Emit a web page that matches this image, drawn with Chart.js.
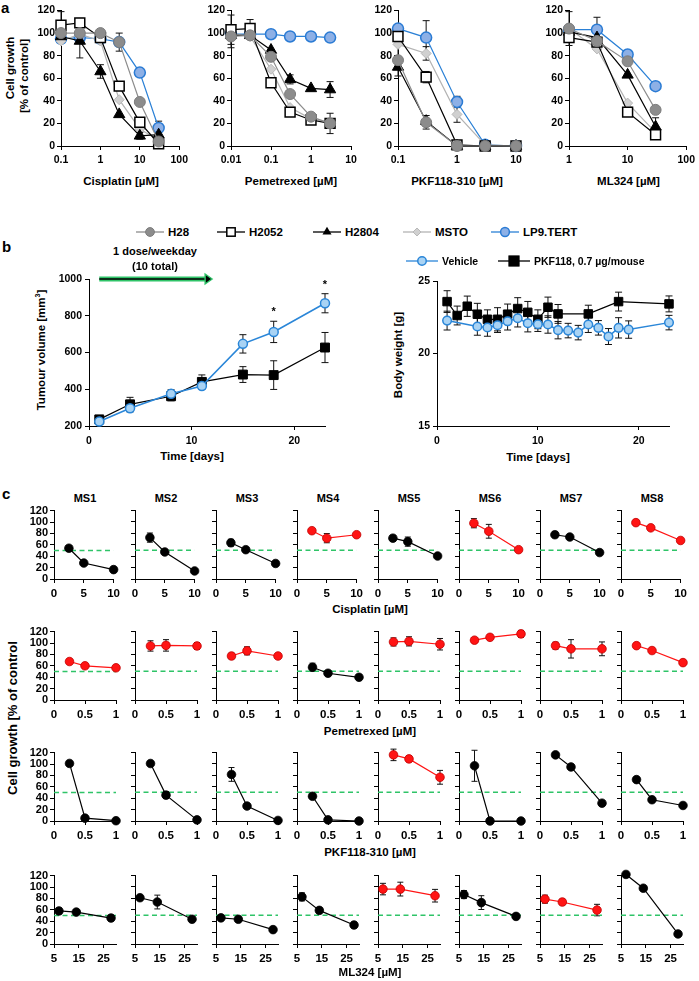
<!DOCTYPE html>
<html lang="en">
<head>
<meta charset="UTF-8">
<title>Cell growth, tumour volume and body weight</title>
<script src="https://cdn.jsdelivr.net/npm/chart.js"></script>
<style>
    body { margin: 0; background: #fff; }
    #fig {
        position: relative; width: 699px; height: 981px; overflow: hidden;
        font-family: 'Liberation Sans', Arial, Helvetica, sans-serif; font-weight: bold; color: #000;
    }
    #fig canvas { position: absolute; }
    .t { position: absolute; white-space: nowrap; font-size: 11.5px; line-height: 1; transform: translate(-50%, -50%); }
    .t sup { font-size: 7px; line-height: 0; }
    .rot { transform: translate(-50%, -50%) rotate(-90deg); }
    .panel { position: absolute; font-size: 15px; line-height: 1; }
    .leg { position: absolute; display: flex; align-items: center; font-size: 11px; white-space: nowrap; transform: translateY(-50%); }
    .leg svg { margin-right: 4px; }
</style>
</head>
<body>
<div id="fig"></div>
<script>
// ---------- panel a : dose response of cell lines ----------
const cellLines = ['H28', 'H2052', 'H2804', 'MSTO', 'LP9.TERT'];
const aYTicks = [0, 20, 40, 60, 80, 100, 120];

const cisDoses = [0.1, 0.3, 1, 3, 10, 30];
const cisTicks = [0.1, 1, 10, 100];
const cisH28   = [100, 100, 100, 92, 39, 4];
const cisH2052 = [107, 109, 96, 53, 21, 2];
const cisH2804 = [97, 93, 66, 28, 9, 10];
const cisMSTO  = [93, 99, 93, 41, 15, 5];
const cisLP9   = [95, 96, 95, 92, 65, 16];
const cisErrH28   = [0, 0, 0, 8, 0, 0];
const cisErrH2052 = [12, 4, 0, 0, 0, 0];
const cisErrH2804 = [0, 15, 6, 0, 3, 0];
const cisErrMSTO  = [0, 0, 0, 0, 0, 0];
const cisErrLP9   = [0, 0, 0, 0, 0, 6];

const pemDoses = [0.01, 0.03, 0.1, 0.3, 1, 3];
const pemTicks = [0.01, 0.1, 1, 10];
const pemH28   = [97, 98, 79, 46, 26, 20];
const pemH2052 = [103, 104, 56, 30, 23, 20];
const pemH2804 = [98, 98, 85, 59, 51, 50];
const pemMSTO  = [100, 97, 68, 34, 24, 21];
const pemLP9   = [99, 99, 99, 97, 97, 96];
const pemErrH28   = [10, 0, 0, 0, 0, 9];
const pemErrH2052 = [13, 8, 0, 0, 0, 0];
const pemErrH2804 = [0, 0, 0, 4, 0, 7];
const pemErrMSTO  = [0, 0, 0, 0, 0, 0];
const pemErrLP9   = [0, 0, 0, 0, 0, 0];

const pkfDoses = [0.1, 0.3, 1, 3, 10];
const pkfTicks = [0.1, 1, 10];
const pkfH28   = [76, 21, 0, 0, 0];
const pkfH2052 = [97, 61, 1, 0, 0];
const pkfH2804 = [70, 22, 0, 0, 0];
const pkfMSTO  = [90, 82, 28, 1, 0];
const pkfLP9   = [104, 96, 39, 1, 0];
const pkfErrH28   = [14, 6, 0, 0, 0];
const pkfErrH2052 = [0, 5, 0, 0, 0];
const pkfErrH2804 = [0, 0, 0, 0, 0];
const pkfErrMSTO  = [0, 6, 7, 0, 0];
const pkfErrLP9   = [0, 15, 5, 0, 0];

const mlDoses = [1, 3, 10, 30];
const mlTicks = [1, 10, 100];
const mlH28   = [104, 93, 75, 32];
const mlH2052 = [96, 92, 30, 10];
const mlH2804 = [101, 96, 63, 17];
const mlMSTO  = [104, 86, 38, 12];
const mlLP9   = [103, 103, 81, 53];
const mlErrH28   = [15, 0, 0, 0];
const mlErrH2052 = [0, 0, 0, 0];
const mlErrH2804 = [0, 0, 0, 8];
const mlErrMSTO  = [0, 0, 0, 0];
const mlErrLP9   = [0, 11, 0, 0];

// ---------- panel b : xenograft ----------
const tumourDays = [1, 4, 8, 11, 15, 18, 23];
const tumourVehicle    = [224, 297, 375, 418, 647, 712, 868];
const tumourVehicleErr = [12, 20, 22, 15, 50, 58, 52];
const tumourPKF        = [236, 318, 362, 440, 480, 477, 627];
const tumourPKFErr     = [12, 38, 25, 38, 43, 78, 82];
const sigDays = [18, 23];
const doseFrom = 1, doseTo = 12;
const tumourTicks = [200, 400, 600, 800, 1000];
const dayTicks = [0, 10, 20];

const bwVehicleDays = [1, 4, 5, 6, 7, 8, 9, 10, 11, 12, 13, 14, 15, 16, 17, 18, 19, 23];
const bwVehicle    = [22.27, 21.86, 21.79, 21.95, 22.22, 22.43, 22.09, 22.02, 22.0, 21.61, 21.58, 21.44, 22.0, 21.77, 21.17, 21.77, 21.65, 22.13];
const bwVehicleErr = [0.65, 0.6, 0.6, 0.5, 0.6, 0.6, 0.6, 0.5, 0.6, 0.6, 0.5, 0.5, 0.55, 0.5, 0.55, 0.7, 0.6, 0.5];
const bwPKFDays = [1, 2, 3, 4, 5, 6, 7, 8, 9, 10, 11, 12, 15, 18, 23];
const bwPKF    = [23.58, 22.62, 23.26, 22.71, 22.36, 22.36, 22.71, 23.1, 22.84, 22.36, 23.19, 22.73, 22.73, 23.58, 23.42];
const bwPKFErr = [0.75, 0.65, 0.7, 0.75, 0.65, 0.8, 0.7, 0.75, 0.75, 0.65, 0.7, 0.65, 0.6, 0.65, 0.55];
const bwTicks = [15, 20, 25];

// ---------- panel c : primary MPM cells ----------
const msNames = ['MS1', 'MS2', 'MS3', 'MS4', 'MS5', 'MS6', 'MS7', 'MS8'];
const cTicksY = [0, 20, 40, 60, 80, 100, 120];
const cThreshold = 50;

const cisC_x = [2.5, 5, 10];
const cisC_ticks = [0, 5, 10];
const cisC    = [[54, 28, 16.5], [72, 47, 14], [63, 51, 27], [84, 71, 77], [71, 65, 40], [97, 83, 51], [77, 73, 46], [98, 89, 67]];
const cisCErr = [[4, 2, 2], [8, 3, 2], [6, 3, 2], [4, 8, 3], [5, 8, 2], [8, 12, 3], [5, 3, 2], [3, 3, 3]];
const cisCRed = [0, 0, 0, 1, 0, 1, 0, 1];

const pemC_x = [0.25, 0.5, 1];
const pemC_ticks = [0, 0.5, 1];
const pemC    = [[67.5, 60, 56.5], [94, 95, 94], [76.5, 85.5, 76.5], [57, 46.5, 39.5], [101, 102, 97], [104, 109, 115], [94.5, 89, 89], [94.5, 86, 65]];
const pemCErr = [[4, 4, 4], [9, 10, 6], [5, 7, 4], [7, 4, 4], [7, 8, 10], [4, 3, 6], [6, 16, 12], [3, 4, 3]];
const pemCRed = [1, 1, 1, 0, 1, 1, 1, 1];

const pkfC_x = [0.25, 0.5, 1];
const pkfC_ticks = [0, 0.5, 1];
const pkfC    = [[101, 5, 0.5], [100, 45, 2], [81, 26, 1], [43, 2, 0], [115, 108, 76], [96, 0, 0], [115, 94, 31], [72, 37, 27]];
const pkfCErr = [[3, 2, 0], [3, 6, 2], [12, 4, 1], [3, 1, 0], [10, 5, 12], [27, 0, 0], [4, 3, 2], [3, 3, 3]];
const pkfCRed = [0, 0, 0, 0, 1, 0, 0, 0];

const mlC_x = [7, 14, 28];
const mlC_ticks = [5, 15, 25];
const mlC    = [[58, 56, 45.5], [80.5, 73, 43], [45.5, 43, 25], [82, 58.5, 33], [95.5, 95.5, 84], [86, 72, 48], [78, 73, 59], [121, 97, 17.5]];
const mlCErr = [[5, 4, 5], [4, 12, 3], [3, 3, 2], [7, 4, 5], [10, 12, 11], [7, 12, 3], [7, 5, 10], [3, 3, 3]];
const mlCRed = [0, 0, 0, 0, 1, 0, 1, 0];

// ---------- styles ----------
const FONT = "'Liberation Sans', Arial, Helvetica, sans-serif";
Chart.defaults.font.family = FONT;
Chart.defaults.font.weight = 'bold';
Chart.defaults.font.size = 10.5;
Chart.defaults.color = '#000';

const cellStyles = {
    'H28':      { shape: 'circle',   r: 5.5, bg: '#8c8c8c', bd: '#7c7c7c', bw: 1,   line: '#8c8c8c' },
    'H2052':    { shape: 'rect',     r: 7,   bg: '#ffffff', bd: '#000000', bw: 1.5, line: '#000000' },
    'H2804':    { shape: 'triangle', r: 6.5, bg: '#000000', bd: '#000000', bw: 1,   line: '#000000' },
    'MSTO':     { shape: 'rectRot',  r: 5,   bg: '#d0d0d0', bd: '#b8b8b8', bw: 1,   line: '#b3b3b3' },
    'LP9.TERT': { shape: 'circle',   r: 5.5, bg: '#8db0e6', bd: '#2a7bd4', bw: 1.5, line: '#2a80d6' }
};
const BLUE = '#2a86d8', LIGHTBLUE = '#a9d3f4', RED = '#ff1414', DARKRED = '#c00000', GREEN = '#2fc468';

const fig = document.getElementById('fig');

// error bars drawn through the chart's own y scale
Chart.register({
    id: 'errorBars',
    beforeDatasetsDraw(chart) {
        const ctx = chart.ctx, ys = chart.scales.y;
        chart.data.datasets.forEach((ds, i) => {
            if (!ds.errors) return;
            const meta = chart.getDatasetMeta(i);
            const cap = ds.capWidth || 3;
            ctx.save();
            ctx.strokeStyle = '#111';
            ctx.lineWidth = 1;
            meta.data.forEach((pt, j) => {
                const e = ds.errors[j];
                if (!e) return;
                const v = ds.data[j].y;
                const y1 = ys.getPixelForValue(v + e), y2 = ys.getPixelForValue(v - e);
                ctx.beginPath();
                ctx.moveTo(pt.x, y1); ctx.lineTo(pt.x, y2);
                ctx.moveTo(pt.x - cap, y1); ctx.lineTo(pt.x + cap, y1);
                ctx.moveTo(pt.x - cap, y2); ctx.lineTo(pt.x + cap, y2);
                ctx.stroke();
            });
            ctx.restore();
        });
    }
});

function text(str, x, y, size, cls) {
    const d = document.createElement('div');
    d.className = 't' + (cls ? ' ' + cls : '');
    d.innerHTML = str;
    d.style.left = x + 'px';
    d.style.top = y + 'px';
    if (size) d.style.fontSize = size + 'px';
    fig.appendChild(d);
}

function panelLabel(str, x, y) {
    const d = document.createElement('div');
    d.className = 'panel';
    d.textContent = str;
    d.style.left = x + 'px';
    d.style.top = y + 'px';
    fig.appendChild(d);
}

function axis(type, min, max, tickVals, size, showLabels, fit) {
    return {
        type: type, min: min, max: max,
        afterBuildTicks: s => { s.ticks = tickVals.map(v => ({ value: v })); },
        afterFit: s => {
            if (fit.w != null) s.width = fit.w;
            if (fit.h != null) s.height = fit.h;
        },
        ticks: {
            display: showLabels, autoSkip: false, maxRotation: 0, minRotation: 0,
            padding: fit.pad != null ? fit.pad : 3,
            font: { size: size, weight: 'bold', family: FONT }, color: '#000',
            callback: v => String(v)
        },
        grid: { display: true, drawOnChartArea: false, drawTicks: true, tickLength: 4, color: '#000', tickColor: '#000', lineWidth: 1 },
        border: { display: true, color: '#000', width: 1 }
    };
}

// box: plot area position in the page and room for the axes around it
function plot(box, xAxis, yAxis, datasets, extra) {
    const c = document.createElement('canvas');
    c.width = box.yw + box.w + box.padR;
    c.height = box.padT + box.h + box.xh + 2;
    c.style.left = (box.left - box.yw) + 'px';
    c.style.top = (box.top - box.padT) + 'px';
    fig.appendChild(c);
    return new Chart(c, {
        type: 'line',
        data: { datasets: datasets },
        options: {
            responsive: false, animation: false, events: [],
            layout: { padding: { left: 0, right: box.padR, top: box.padT, bottom: 2 } },
            plugins: { legend: { display: false }, tooltip: { enabled: false } },
            scales: { x: xAxis, y: yAxis }
        },
        plugins: extra || []
    });
}

function xy(xs, ys) { return xs.map((x, i) => ({ x: x, y: ys[i] })); }

// ---------- panel a ----------
panelLabel('a', 1, 0);
text('Cell growth', 11, 68, 11.5, 'rot');
text('[% of control]', 25, 76, 11.5, 'rot');

const aPanels = [
    { doses: cisDoses, ticks: cisTicks, min: 0.1, max: 100, left: 61, w: 120, title: 'Cisplatin [µM]',
      vals: [cisH28, cisH2052, cisH2804, cisMSTO, cisLP9], errs: [cisErrH28, cisErrH2052, cisErrH2804, cisErrMSTO, cisErrLP9] },
    { doses: pemDoses, ticks: pemTicks, min: 0.01, max: 10, left: 231, w: 120, title: 'Pemetrexed [µM]',
      vals: [pemH28, pemH2052, pemH2804, pemMSTO, pemLP9], errs: [pemErrH28, pemErrH2052, pemErrH2804, pemErrMSTO, pemErrLP9] },
    { doses: pkfDoses, ticks: pkfTicks, min: 0.1, max: 10, left: 398, w: 118, title: 'PKF118-310 [µM]',
      vals: [pkfH28, pkfH2052, pkfH2804, pkfMSTO, pkfLP9], errs: [pkfErrH28, pkfErrH2052, pkfErrH2804, pkfErrMSTO, pkfErrLP9] },
    { doses: mlDoses, ticks: mlTicks, min: 1, max: 100, left: 569, w: 119, title: 'ML324 [µM]',
      vals: [mlH28, mlH2052, mlH2804, mlMSTO, mlLP9], errs: [mlErrH28, mlErrH2052, mlErrH2804, mlErrMSTO, mlErrLP9] }
];

aPanels.forEach(p => {
    const box = { left: p.left, top: 10, w: p.w, h: 136, yw: 27, xh: 22, padR: 11, padT: 8 };
    const datasets = cellLines.map((name, k) => {
        const st = cellStyles[name];
        return {
            label: name,
            data: xy(p.doses, p.vals[k]),
            errors: p.errs[k], capWidth: 3.5,
            borderColor: st.line, borderWidth: 1.2, tension: 0, clip: false,
            pointStyle: st.shape, pointRadius: st.r,
            pointBackgroundColor: st.bg, pointBorderColor: st.bd, pointBorderWidth: st.bw
        };
    });
    plot(box,
        axis('logarithmic', p.min, p.max, p.ticks, 10.5, true, { h: 22, pad: 4 }),
        axis('linear', 0, 120, aYTicks, 10.5, true, { w: 27, pad: 2 }),
        datasets);
    text(p.title, p.left + p.w / 2, 182, 11.5);
});

// legend of panel a
function glyph(st, w) {
    const cy = 7, cx = w / 2, r = st.r * 0.8;
    let m;
    if (st.shape === 'circle') {
        m = `<circle cx="${cx}" cy="${cy}" r="${r}" fill="${st.bg}" stroke="${st.bd}" stroke-width="${st.bw}"/>`;
    } else if (st.shape === 'rect') {
        const s = r * 0.75;
        m = `<rect x="${cx - s}" y="${cy - s}" width="${2 * s}" height="${2 * s}" fill="${st.bg}" stroke="${st.bd}" stroke-width="${st.bw}"/>`;
    } else if (st.shape === 'triangle') {
        m = `<polygon points="${cx},${cy - r} ${cx + r * 0.87},${cy + r / 2} ${cx - r * 0.87},${cy + r / 2}" fill="${st.bg}"/>`;
    } else {
        m = `<polygon points="${cx},${cy - r} ${cx + r},${cy} ${cx},${cy + r} ${cx - r},${cy}" fill="${st.bg}" stroke="${st.bd}"/>`;
    }
    return `<svg width="${w}" height="14"><line x1="0" y1="${cy}" x2="${w}" y2="${cy}" stroke="${st.line}" stroke-width="1.3"/>${m}</svg>`;
}

function legendItem(html, label, x, y, size) {
    const d = document.createElement('div');
    d.className = 'leg';
    d.innerHTML = html + '<span>' + label + '</span>';
    d.style.left = x + 'px';
    d.style.top = y + 'px';
    if (size) d.style.fontSize = size + 'px';
    fig.appendChild(d);
}

const aLegendX = [136, 217, 313, 403, 491];
cellLines.forEach((name, k) => legendItem(glyph(cellStyles[name], 28), name, aLegendX[k], 232, 11.5));

// ---------- panel b ----------
panelLabel('b', 2, 239);

const doseArrow = {
    id: 'doseArrow',
    afterDatasetsDraw(chart) {
        const ctx = chart.ctx, xs = chart.scales.x, ys = chart.scales.y;
        const x1 = xs.getPixelForValue(doseFrom), x2 = xs.getPixelForValue(doseTo);
        const yy = ys.getPixelForValue(tumourTicks[tumourTicks.length - 1]);
        ctx.save();
        ctx.lineCap = 'butt';
        ctx.strokeStyle = GREEN; ctx.lineWidth = 5;
        ctx.beginPath(); ctx.moveTo(x1, yy); ctx.lineTo(x2 - 5, yy); ctx.stroke();
        ctx.strokeStyle = '#000'; ctx.lineWidth = 1.6;
        ctx.beginPath(); ctx.moveTo(x1, yy); ctx.lineTo(x2 - 5, yy); ctx.stroke();
        ctx.beginPath();
        ctx.moveTo(x2, yy); ctx.lineTo(x2 - 7, yy - 5); ctx.lineTo(x2 - 7, yy + 5); ctx.closePath();
        ctx.fillStyle = '#000'; ctx.fill();
        ctx.strokeStyle = GREEN; ctx.lineWidth = 1.4; ctx.stroke();
        // significance marks above vehicle
        ctx.fillStyle = '#000';
        ctx.font = 'bold 11px ' + FONT;
        ctx.textAlign = 'center';
        sigDays.forEach(d => {
            const i = tumourDays.indexOf(d);
            const px = xs.getPixelForValue(d);
            const py = ys.getPixelForValue(tumourVehicle[i] + tumourVehicleErr[i]) - 6;
            ctx.fillText('*', px, py);
        });
        ctx.restore();
    }
};

plot({ left: 89, top: 279, w: 236, h: 147, yw: 32, xh: 22, padR: 10, padT: 12 },
    axis('linear', 0, 23, dayTicks, 10.5, true, { h: 22, pad: 5 }),
    axis('linear', 200, 1000, tumourTicks, 10.5, true, { w: 32, pad: 3 }),
    [
        { label: 'Vehicle', data: xy(tumourDays, tumourVehicle), errors: tumourVehicleErr, capWidth: 3.5,
          borderColor: BLUE, borderWidth: 1.6, tension: 0, clip: false,
          pointStyle: 'circle', pointRadius: 4.5, pointBackgroundColor: LIGHTBLUE, pointBorderColor: BLUE, pointBorderWidth: 1.5 },
        { label: 'PKF118, 0.7 µg/mouse', data: xy(tumourDays, tumourPKF), errors: tumourPKFErr, capWidth: 3.5,
          borderColor: '#000', borderWidth: 1.2, tension: 0, clip: false, order: 1,
          pointStyle: 'rect', pointRadius: 6.3, pointBackgroundColor: '#000', pointBorderColor: '#000', pointBorderWidth: 1 }
    ],
    [doseArrow]);
text('1 dose/weekday', 155, 251, 11);
text('(10 total)', 155, 266, 11);
text('Tumour volume [mm<sup>3</sup>]', 42, 350, 11.5, 'rot');
text('Time [days]', 192, 457, 11.5);

plot({ left: 437, top: 281, w: 232, h: 145, yw: 24, xh: 22, padR: 9, padT: 10 },
    axis('linear', 0, 23, dayTicks, 10.5, true, { h: 22, pad: 5 }),
    axis('linear', 15, 25, bwTicks, 10.5, true, { w: 24, pad: 3 }),
    [
        { label: 'Vehicle', data: xy(bwVehicleDays, bwVehicle), errors: bwVehicleErr, capWidth: 3.5,
          borderColor: BLUE, borderWidth: 1.5, tension: 0, clip: false,
          pointStyle: 'circle', pointRadius: 4.3, pointBackgroundColor: LIGHTBLUE, pointBorderColor: BLUE, pointBorderWidth: 1.5 },
        { label: 'PKF118, 0.7 µg/mouse', data: xy(bwPKFDays, bwPKF), errors: bwPKFErr, capWidth: 3.5,
          borderColor: '#000', borderWidth: 1.2, tension: 0, clip: false, order: 1,
          pointStyle: 'rect', pointRadius: 6, pointBackgroundColor: '#000', pointBorderColor: '#000', pointBorderWidth: 1 }
    ]);
text('Body weight [g]', 399, 355, 11.5, 'rot');
text('Time [days]', 538, 458, 11.5);

const vehGlyph = { shape: 'circle', r: 5.3, bg: LIGHTBLUE, bd: BLUE, bw: 1.5, line: BLUE };
const pkfGlyph = { shape: 'rect', r: 8.5, bg: '#000', bd: '#000', bw: 1, line: '#000' };
legendItem(glyph(vehGlyph, 32), 'Vehicle', 406, 261, 10.5);
legendItem(glyph(pkfGlyph, 32), 'PKF118, 0.7 µg/mouse', 498, 261, 10.5);

// ---------- panel c ----------
panelLabel('c', 2, 486);
text('Cell growth [% of control', 12, 718, 13, 'rot');

const cRows = [
    { vals: cisC, errs: cisCErr, red: cisCRed, xs: cisC_x, ticks: cisC_ticks, min: 0, max: 10, top: 510, title: 'Cisplatin [µM]', titleY: 610 },
    { vals: pemC, errs: pemCErr, red: pemCRed, xs: pemC_x, ticks: pemC_ticks, min: 0, max: 1, top: 631, title: 'Pemetrexed [µM]', titleY: 732 },
    { vals: pkfC, errs: pkfCErr, red: pkfCRed, xs: pkfC_x, ticks: pkfC_ticks, min: 0, max: 1, top: 752, title: 'PKF118-310 [µM]', titleY: 853 },
    { vals: mlC, errs: mlCErr, red: mlCRed, xs: mlC_x, ticks: mlC_ticks, min: 5, max: 30, top: 875, title: 'ML324 [µM]', titleY: 973 }
];
const cColLeft = msNames.map((n, i) => 54 + 81 * i);

msNames.forEach((n, i) => text(n, cColLeft[i] + 31, 498, 11));

cRows.forEach(row => {
    msNames.forEach((n, i) => {
        const first = i === 0;
        const yw = first ? 30 : 8;
        const col = row.red[i] ? RED : '#000';
        plot({ left: cColLeft[i], top: row.top, w: 62, h: 69, yw: yw, xh: 21, padR: 8, padT: 8 },
            axis('linear', row.min, row.max, row.ticks, 11.5, true, { h: 21, pad: 4 }),
            axis('linear', 0, 120, cTicksY, 11, first, { w: yw, pad: 2 }),
            [
                { label: n, data: xy(row.xs, row.vals[i]), errors: row.errs[i], capWidth: 3,
                  borderColor: col, borderWidth: 1.2, tension: 0, clip: false,
                  pointStyle: 'circle', pointRadius: 4.3,
                  pointBackgroundColor: col, pointBorderColor: row.red[i] ? DARKRED : '#000', pointBorderWidth: 0.8 },
                { label: '50%', data: [{ x: row.min, y: cThreshold }, { x: row.max, y: cThreshold }],
                  borderColor: GREEN, borderWidth: 1.5, borderDash: [5, 3.5], pointRadius: 0, order: 1 }
            ]);
    });
    text(row.title, 370, row.titleY, 11.5);
});
</script>
</body>
</html>
